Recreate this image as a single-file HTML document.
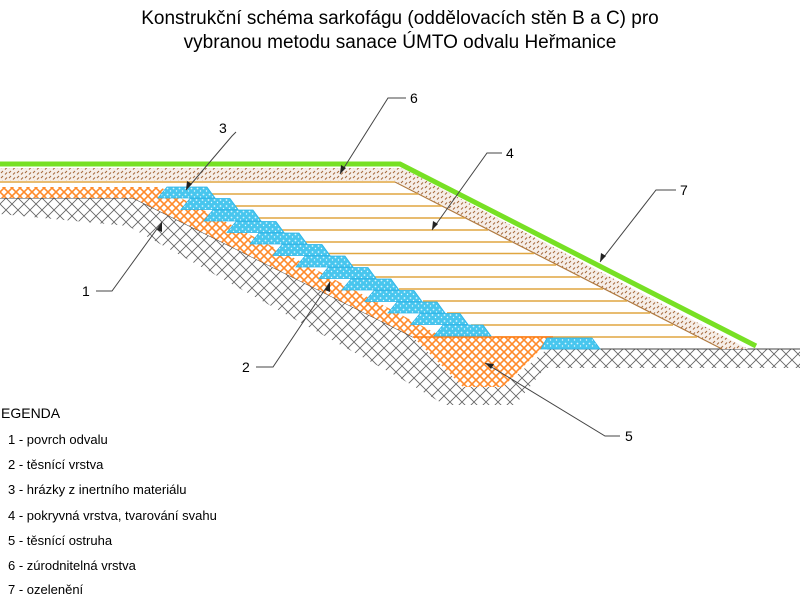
<!DOCTYPE html>
<html><head><meta charset="utf-8"><style>
body{margin:0;background:#fff;width:800px;height:600px;overflow:hidden}
svg{display:block}
text{font-family:"Liberation Sans",sans-serif}
</style></head><body>
<svg width="800" height="600" viewBox="0 0 800 600" xmlns="http://www.w3.org/2000/svg">
<defs>
<pattern id="hatch" width="12" height="12" patternUnits="userSpaceOnUse">
<path d="M0 0L12 12M12 0L0 12" stroke="#666" stroke-width="0.9"/>
</pattern>
<pattern id="oh" width="8" height="8" patternUnits="userSpaceOnUse">
<rect width="8" height="8" fill="#fff"/>
<path d="M0 0L8 8M8 0L0 8" stroke="#ff8a2a" stroke-width="1.6"/>
</pattern>
<pattern id="bl" width="6" height="6" patternUnits="userSpaceOnUse">
<rect width="6" height="6" fill="#48c6ee"/>
<circle cx="1.5" cy="1.5" r="0.9" fill="#d8f4ff"/><circle cx="4.5" cy="4" r="0.7" fill="#e8f8ff"/>
</pattern>
<pattern id="br" width="8" height="5" patternUnits="userSpaceOnUse">
<rect width="8" height="5" fill="#f6eee8"/>
<path d="M1 3L3 1M5 4.5L7 2.5" stroke="#a5683a" stroke-width="1"/>
</pattern>
<polygon id="b" points="7,0 47,0 55,11 -2,11" fill="url(#bl)" stroke="#2ab4e8" stroke-width="0.8"/>
</defs>

<text x="400" y="24" font-size="19" text-anchor="middle">Konstrukční schéma sarkofágu (oddělovacích stěn B a C) pro</text>
<text x="400" y="48" font-size="19" text-anchor="middle">vybranou metodu  sanace ÚMTO odvalu Heřmanice</text>

<!-- ground hatch -->
<polygon points="0,198 133,198 413,337 463,387 503,387 547,349 800,349 800,368 545,368 515,405 445,405 400,378 128,226 0,214" fill="url(#hatch)"/>
<polyline points="0,198 133,198 413,337" fill="none" stroke="#444" stroke-width="1"/>
<line x1="547" y1="349" x2="800" y2="349" stroke="#444" stroke-width="1"/>

<!-- brown layer -->
<polygon points="0,168 402,168 748,349 722,349 395,181 0,181" fill="url(#br)"/>
<line x1="0" y1="182" x2="395" y2="182" stroke="#e0a640" stroke-width="1.5"/>
<line x1="395" y1="182" x2="722" y2="349" stroke="#b07a40" stroke-width="1.2"/>

<!-- yellow lines -->
<g stroke="#e0a640" stroke-width="1.5">
<line x1="209" y1="194" x2="418" y2="194"/>
<line x1="233" y1="206" x2="442" y2="206"/>
<line x1="257" y1="218" x2="465" y2="218"/>
<line x1="281" y1="230" x2="488" y2="230"/>
<line x1="305" y1="242" x2="512" y2="242"/>
<line x1="328" y1="253.5" x2="534" y2="253.5"/>
<line x1="351" y1="265" x2="556" y2="265"/>
<line x1="375" y1="277" x2="580" y2="277"/>
<line x1="399" y1="289" x2="603" y2="289"/>
<line x1="423" y1="301" x2="627" y2="301"/>
<line x1="447" y1="313" x2="650" y2="313"/>
<line x1="471" y1="325" x2="673" y2="325"/>
<line x1="495" y1="337" x2="697" y2="337"/>
</g>

<!-- orange seal -->
<polygon points="0,187 160,187 441,336 553,337 503,387 463,387 413,337 133,198 0,198" fill="url(#oh)"/>
<line x1="413" y1="337" x2="553" y2="337" stroke="#ff7a10" stroke-width="1.5"/>

<!-- blue blocks -->
<use href="#b" x="160" y="187"/><use href="#b" x="183" y="198.5"/><use href="#b" x="206" y="210"/>
<use href="#b" x="229" y="221.5"/><use href="#b" x="252" y="233"/><use href="#b" x="275" y="244.5"/>
<use href="#b" x="298" y="256"/><use href="#b" x="321" y="267.5"/><use href="#b" x="344" y="279"/>
<use href="#b" x="367" y="290.5"/><use href="#b" x="390" y="302"/><use href="#b" x="413" y="313.5"/>
<use href="#b" x="436" y="325"/>
<polygon points="547,338 592,338 600,349 541,349" fill="url(#bl)" stroke="#2ab4e8" stroke-width="0.8"/>

<!-- green -->
<polyline points="0,164 400,164 756,346" fill="none" stroke="#77e024" stroke-width="5"/>

<!-- leaders -->
<g stroke="#444" stroke-width="1" fill="none">
<polyline points="236,132 232,136 186,190"/>
<polyline points="406,98 388,98 340,174"/>
<polyline points="502,153 487,153 432,230"/>
<polyline points="676,190 656,190 600,262"/>
<polyline points="96,291 112,291 162,222"/>
<polyline points="256,367 273,367 330,282"/>
<polyline points="620,436 605,436 485,363"/>
</g>
<g fill="#222">
<polygon points="186,190 187,181 192,184"/>
<polygon points="340,174 341,165 346,168"/>
<polygon points="432,230 433,221 438,224"/>
<polygon points="600,262 601,253 606,256"/>
<polygon points="162,222 157,230 162,232"/>
<polygon points="330,282 325,290 330,292"/>
<polygon points="485,363 494,364 491,369"/>
</g>
<g font-size="14">
<text x="219" y="133">3</text><text x="410" y="103">6</text><text x="506" y="158">4</text>
<text x="680" y="195">7</text><text x="82" y="296">1</text><text x="242" y="372">2</text><text x="625" y="441">5</text>
</g>

<g font-size="13">
<text x="1" y="418" font-size="14">EGENDA</text>
<text x="8" y="444">1 - povrch odvalu</text>
<text x="8" y="469">2 - těsnící vrstva</text>
<text x="8" y="494">3 - hrázky z inertního materiálu</text>
<text x="8" y="520">4 - pokryvná vrstva, tvarování svahu</text>
<text x="8" y="545">5 - těsnící ostruha</text>
<text x="8" y="570">6 - zúrodnitelná vrstva</text>
<text x="8" y="594">7 - ozelenění</text>
</g>
</svg>
</body></html>
